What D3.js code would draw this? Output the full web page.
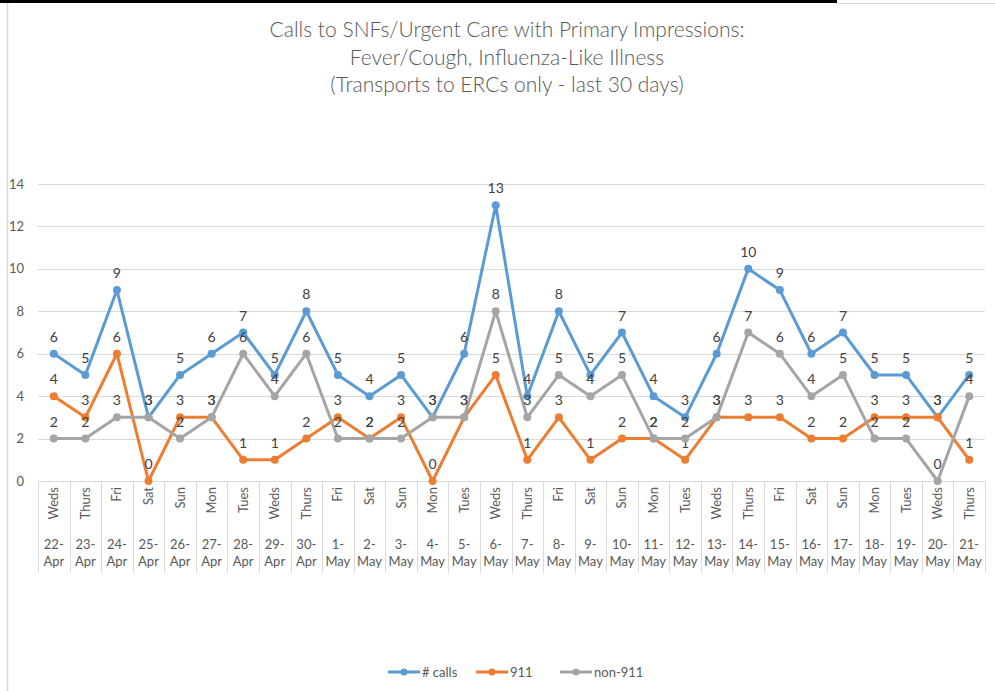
<!DOCTYPE html>
<html>
<head>
<meta charset="utf-8">
<script src="https://cdn.jsdelivr.net/npm/d3@7"></script>
<style>
  body { margin: 0; background: #fff; }
  svg text { font-family: Lato, "Open Sans", sans-serif; }
</style>
</head>
<body>
<svg id="chart" width="995" height="691"></svg>
<script>
//Chart data
var dayNames = ["Weds","Thurs","Fri","Sat","Sun","Mon","Tues","Weds","Thurs","Fri","Sat","Sun","Mon","Tues","Weds",
                "Thurs","Fri","Sat","Sun","Mon","Tues","Weds","Thurs","Fri","Sat","Sun","Mon","Tues","Weds","Thurs"];
var dates = ["22-Apr","23-Apr","24-Apr","25-Apr","26-Apr","27-Apr","28-Apr","29-Apr","30-Apr","1-May","2-May","3-May","4-May","5-May","6-May",
             "7-May","8-May","9-May","10-May","11-May","12-May","13-May","14-May","15-May","16-May","17-May","18-May","19-May","20-May","21-May"];
var calls   = [6,5,9,3,5,6,7,5,8,5,4,5,3,6,13,4,8,5,7,4,3,6,10,9,6,7,5,5,3,5];
var calls911 = [4,3,6,0,3,3,1,1,2,3,2,3,0,3,5,1,3,1,2,2,1,3,3,3,2,2,3,3,3,1];
var non911  = [2,2,3,3,2,3,6,4,6,2,2,2,3,3,8,3,5,4,5,2,2,3,7,6,4,5,2,2,0,4];
var yTicks = [0,2,4,6,8,10,12,14];

var series = [
  { name: "# calls", values: calls, color: "#5b9bd5" },
  { name: "911", values: calls911, color: "#ed7d31" },
  { name: "non-911", values: non911, color: "#a5a5a5" }
];

var svg = d3.select("svg#chart");
var textColor = "#595959";
var gridColor = "#d9d9d9";

//Frame bits around the chart
svg.append("rect").attr("x", 0).attr("y", 0).attr("width", 837).attr("height", 3).attr("fill", "#000");
svg.append("line").attr("x1", 837).attr("x2", 995).attr("y1", 3.5).attr("y2", 3.5)
  .attr("stroke", "#d9d9d9").attr("stroke-width", 1);
svg.append("line").attr("x1", 7.5).attr("x2", 7.5).attr("y1", 3).attr("y2", 691)
  .attr("stroke", "#d9d9d9").attr("stroke-width", 1.5);

//Title
var titleLines = ["Calls to SNFs/Urgent Care with Primary Impressions:",
                  "Fever/Cough, Influenza-Like Illness",
                  "(Transports to ERCs only - last 30 days)"];
svg.append("g").selectAll("text")
  .data(titleLines)
  .enter().append("text")
    .attr("x", 507)
    .attr("y", function (d, i) { return 37 + i * 27.5; })
    .attr("text-anchor", "middle")
    .attr("fill", textColor)
    .style("font-size", "21px")
    .style("font-weight", "300")
    .text(function (d) { return d; });

//Scales
var x = d3.scaleBand().domain(d3.range(dates.length)).range([38, 985]);
var y = d3.scaleLinear().domain([0, 14]).range([481, 184]);

//Gridlines
svg.append("g").selectAll("line")
  .data(yTicks)
  .enter().append("line")
    .attr("x1", 38).attr("x2", 985)
    .attr("y1", function (d) { return Math.round(y(d)) + 0.5; })
    .attr("y2", function (d) { return Math.round(y(d)) + 0.5; })
    .attr("stroke", gridColor)
    .attr("stroke-width", 1);

//Y axis labels
svg.append("g").selectAll("text")
  .data(yTicks)
  .enter().append("text")
    .attr("x", 24)
    .attr("y", function (d) { return y(d) + 4.5; })
    .attr("text-anchor", "end")
    .attr("fill", textColor)
    .style("font-size", "13px")
    .text(function (d) { return d; });

//X axis category separators
var bounds = d3.range(dates.length + 1).map(function (i) { return 38 + i * x.step(); });
svg.append("g").selectAll("line")
  .data(bounds)
  .enter().append("line")
    .attr("x1", function (d) { return Math.round(d) + 0.5; })
    .attr("x2", function (d) { return Math.round(d) + 0.5; })
    .attr("y1", 481).attr("y2", 573)
    .attr("stroke", gridColor);

//Day names (rotated)
svg.append("g").selectAll("text")
  .data(dayNames)
  .enter().append("text")
    .attr("transform", function (d, i) {
      return "translate(" + (x(i) + x.bandwidth() / 2 + 4.5) + ",487) rotate(-90)";
    })
    .attr("text-anchor", "end")
    .attr("fill", textColor)
    .style("font-size", "13px")
    .text(function (d) { return d; });

//Dates, two lines
var dateText = svg.append("g").selectAll("text")
  .data(dates)
  .enter().append("text")
    .attr("text-anchor", "middle")
    .attr("fill", textColor)
    .style("font-size", "13px");
dateText.append("tspan")
  .attr("x", function (d, i) { return x(i) + x.bandwidth() / 2; })
  .attr("y", 549)
  .text(function (d) { return d.split("-")[0] + "-"; });
dateText.append("tspan")
  .attr("x", function (d, i) { return x(i) + x.bandwidth() / 2; })
  .attr("y", 566)
  .text(function (d) { return d.split("-")[1]; });

//Lines
var line = d3.line()
  .x(function (d, i) { return x(i) + x.bandwidth() / 2; })
  .y(function (d) { return y(d); });

var seriesG = svg.append("g").selectAll("g")
  .data(series)
  .enter().append("g");

seriesG.append("path")
  .attr("d", function (d) { return line(d.values); })
  .attr("fill", "none")
  .attr("stroke", function (d) { return d.color; })
  .attr("stroke-width", 3)
  .attr("stroke-linejoin", "round");

seriesG.each(function (s) {
  d3.select(this).selectAll("circle")
    .data(s.values)
    .enter().append("circle")
      .attr("cx", function (d, i) { return x(i) + x.bandwidth() / 2; })
      .attr("cy", function (d) { return y(d); })
      .attr("r", 4)
      .attr("fill", s.color);
});

//Data labels, above each point
seriesG.each(function (s) {
  d3.select(this).selectAll("text")
    .data(s.values)
    .enter().append("text")
      .attr("x", function (d, i) { return x(i) + x.bandwidth() / 2; })
      .attr("y", function (d) { return y(d) - 12; })
      .attr("text-anchor", "middle")
      .attr("fill", "#404040")
      .style("font-size", "14px")
      .text(function (d) { return d; });
});

//Legend
var legendX = [388, 476, 560];
var legend = svg.append("g").selectAll("g")
  .data(series)
  .enter().append("g")
    .attr("transform", function (d, i) { return "translate(" + legendX[i] + ",672)"; });
legend.append("line")
  .attr("x1", 0).attr("x2", 32).attr("y1", 0).attr("y2", 0)
  .attr("stroke", function (d) { return d.color; })
  .attr("stroke-width", 3);
legend.append("circle")
  .attr("cx", 16).attr("cy", 0).attr("r", 3.5)
  .attr("fill", function (d) { return d.color; });
legend.append("text")
  .attr("x", 34).attr("y", 4.5)
  .attr("fill", textColor)
  .style("font-size", "13px")
  .text(function (d) { return d.name; });
</script>
</body>
</html>
